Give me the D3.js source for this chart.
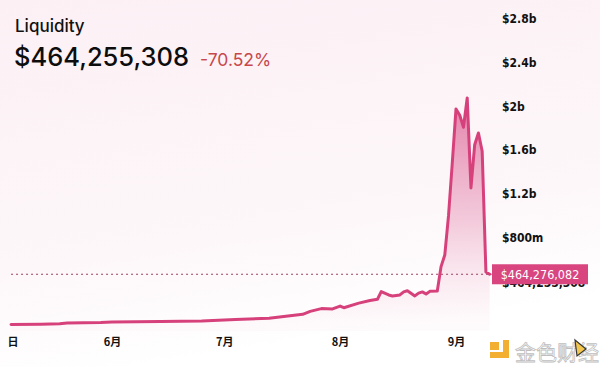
<!DOCTYPE html>
<html><head><meta charset="utf-8">
<script src="https://cdn.jsdelivr.net/npm/d3@7"></script>
<style>html,body{margin:0;padding:0;background:#fff;}svg{display:block;}</style>
</head><body>
<svg id="chart" width="600" height="367"></svg>
<script>
// ---- data (values in millions USD) ----
const dates = ["2023-05-05","2023-05-13","2023-05-18","2023-05-20","2023-05-29","2023-06-01","2023-06-14","2023-06-25",
"2023-07-04","2023-07-13","2023-07-22","2023-07-24","2023-07-27","2023-07-30","2023-08-01","2023-08-02","2023-08-06",
"2023-08-09","2023-08-11","2023-08-12","2023-08-14","2023-08-15","2023-08-17","2023-08-18","2023-08-19","2023-08-21",
"2023-08-22","2023-08-23","2023-08-24","2023-08-25","2023-08-27","2023-08-28","2023-08-29","2023-08-30","2023-08-31",
"2023-09-01","2023-09-02","2023-09-03","2023-09-04","2023-09-05","2023-09-06","2023-09-07","2023-09-08","2023-09-09","2023-09-10"];
const liquidity = [5,7,12,18,22,27,32,37,
50,62,98,125,150,147,173,158,200,
224,236,305,275,266,275,303,313,266,
292,303,283,308,312,534,640,1000,1480,
1977,1920,1810,2078,1254,1650,1757,1590,485,464];
const yTicks = [800,1200,1600,2000,2400,2800];
const monthTicks = ["2023-06-01","2023-07-01","2023-08-01","2023-09-01"];
const monthLabels = ["6月","7月","8月","9月"];
const title = "Liquidity";
const headline = "$464,255,308";
const change = "-70.52%";
const currentValue = 464.276082;
const currentLabel = "$464,276,082";

const parse = d3.timeParse("%Y-%m-%d");
const data = dates.map((d,i)=>({date:parse(d), v:liquidity[i]}));

const svg = d3.select("#chart");
const W = 600, H = 367;

const defs = svg.append("defs");
const bg = defs.append("linearGradient").attr("id","bg").attr("x1",0).attr("y1",0).attr("x2",0.25).attr("y2",1);
bg.append("stop").attr("offset","0%").attr("stop-color","#fcf0f5");
bg.append("stop").attr("offset","70%").attr("stop-color","#fdf7f9");
bg.append("stop").attr("offset","100%").attr("stop-color","#ffffff");
svg.append("rect").attr("width",W).attr("height",H).attr("fill","url(#bg)");

const x = d3.scaleTime().domain([parse("2023-06-01"), parse("2023-09-01")]).range([112,456]);
const y = d3.scaleLinear().domain([0,2800]).range([325,19]);

const ag = defs.append("linearGradient").attr("id","area").attr("gradientUnits","userSpaceOnUse")
  .attr("x1",0).attr("y1",y(2100)).attr("x2",0).attr("y2",y(0));
ag.append("stop").attr("offset","0%").attr("stop-color","#d84a86").attr("stop-opacity",0.7);
ag.append("stop").attr("offset","55%").attr("stop-color","#e27fa8").attr("stop-opacity",0.38);
ag.append("stop").attr("offset","100%").attr("stop-color","#f0bcd1").attr("stop-opacity",0.06);

const area = d3.area().x(d=>x(d.date)).y0(y(0)+6).y1(d=>y(d.v));
svg.append("path").datum(data).attr("d",area).attr("fill","url(#area)");

// dashed current line
const xEnd = x(data[data.length-1].date);
svg.append("line").attr("x1",x(data[0].date)).attr("x2",xEnd+2)
  .attr("y1",y(currentValue)).attr("y2",y(currentValue))
  .attr("stroke","#9a3f63").attr("stroke-width",1).attr("stroke-dasharray","2,3");

const line = d3.line().x(d=>x(d.date)).y(d=>y(d.v));
svg.append("path").datum(data).attr("d",line).attr("fill","none")
  .attr("stroke","#d6417b").attr("stroke-width",3).attr("stroke-linejoin","round").attr("stroke-linecap","round");

// y axis (right)
const yAxis = d3.axisRight(y).tickValues(yTicks).tickSize(0)
  .tickFormat(v => v>=1000 ? "$"+d3.format("~g")(v/1000)+"b" : "$"+v+"m");
const ya = svg.append("g").attr("transform","translate(500,0)").call(yAxis);
ya.select(".domain").remove();
ya.selectAll("text").attr("x",2).attr("fill","#111").attr("font-family","'DejaVu Sans Condensed','DejaVu Sans',sans-serif")
  .attr("font-size",12).attr("font-weight","bold");

// label mostly hidden under the value tag
svg.append("text").attr("x",502).attr("y",286.5).attr("font-family","'DejaVu Sans Condensed',sans-serif")
  .attr("font-size",12).attr("font-weight","bold").attr("fill","#111").text(headline);

// value tag
svg.append("rect").attr("x",492).attr("y",y(currentValue)-10).attr("width",96).attr("height",20).attr("fill","#d8457f");
svg.append("text").attr("x",540).attr("y",y(currentValue)+4.5).attr("text-anchor","middle")
  .attr("font-family","'DejaVu Sans Condensed','DejaVu Sans',sans-serif").attr("font-size",12.5).attr("fill","#fff").text(currentLabel);

// x axis
const xAxis = d3.axisBottom(x).tickValues(monthTicks.map(parse)).tickSize(0).tickFormat((d,i)=>monthLabels[i]);
const xa = svg.append("g").attr("transform","translate(0,335)").call(xAxis);
xa.select(".domain").remove();
xa.selectAll("text").attr("dy","0.71em").attr("fill","#111").attr("font-family","'Noto Sans CJK SC','DejaVu Sans',sans-serif")
  .attr("font-size",11).attr("font-weight","bold");
svg.append("text").attr("x",13).attr("y",346).attr("text-anchor","middle").attr("fill","#111")
  .attr("font-family","'Noto Sans CJK SC',sans-serif").attr("font-size",11).attr("font-weight","bold").text("日");

// header
svg.append("text").attr("x",15).attr("y",32).attr("font-family","Inter,'Noto Sans',sans-serif")
  .attr("font-size",17).attr("font-weight",500).attr("fill","#111").text(title);
svg.append("text").attr("x",14).attr("y",66).attr("font-family","Inter,'Noto Sans',sans-serif")
  .attr("font-size",25.5).attr("font-weight",500).attr("fill","#0d0d0d").text(headline);
svg.append("text").attr("x",200).attr("y",66).attr("font-family","Inter,'Noto Sans',sans-serif")
  .attr("font-size",17.5).attr("fill","#c8474a").text(change);

// watermark
const wm = svg.append("g").attr("opacity",0.9);
wm.append("rect").attr("x",490).attr("y",342).attr("width",9).attr("height",8).attr("fill","#f2a71b");
wm.append("path").attr("d","M503,340 L509,340 L509,358 L490,358 L490,352 L503,352 Z").attr("fill","#f2a71b");
wm.append("text").attr("x",515).attr("y",360).attr("font-family","'Noto Sans CJK SC',sans-serif")
  .attr("font-size",21).attr("fill","#fff").attr("stroke","#b8b8b8").attr("stroke-width",0.8).text("金色财经");
wm.append("path").attr("d","M575,340 L586,349 L577,356 Z").attr("fill","#f2c13b").attr("stroke","#222").attr("stroke-width",1.2);
</script>
</body></html>
